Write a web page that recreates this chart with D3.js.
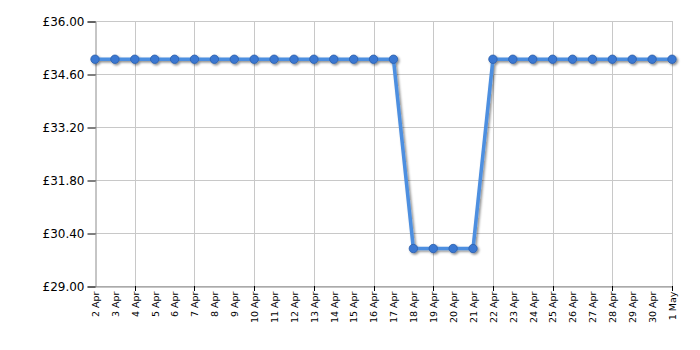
<!DOCTYPE html>
<html>
<head>
<meta charset="utf-8">
<script src="https://cdn.jsdelivr.net/npm/d3@7"></script>
<style>
  body { margin: 0; background: #fff; }
  svg { display: block; font-family: "DejaVu Sans", Verdana, sans-serif; }
</style>
</head>
<body>
<div id="chart"></div>
<script>
// price history, 2 Apr - 1 May
var dates = ["2 Apr", "3 Apr", "4 Apr", "5 Apr", "6 Apr", "7 Apr", "8 Apr", "9 Apr", "10 Apr",
  "11 Apr", "12 Apr", "13 Apr", "14 Apr", "15 Apr", "16 Apr", "17 Apr", "18 Apr", "19 Apr",
  "20 Apr", "21 Apr", "22 Apr", "23 Apr", "24 Apr", "25 Apr", "26 Apr", "27 Apr", "28 Apr",
  "29 Apr", "30 Apr", "1 May"];
var prices = [34.99, 34.99, 34.99, 34.99, 34.99, 34.99, 34.99, 34.99, 34.99,
  34.99, 34.99, 34.99, 34.99, 34.99, 34.99, 34.99, 29.99, 29.99,
  29.99, 29.99, 34.99, 34.99, 34.99, 34.99, 34.99, 34.99, 34.99,
  34.99, 34.99, 34.99];
var yTicks = [29.00, 30.40, 31.80, 33.20, 34.60, 36.00];
var gridDates = ["4 Apr", "7 Apr", "10 Apr", "13 Apr", "16 Apr", "19 Apr", "22 Apr",
  "25 Apr", "28 Apr", "1 May"];

var width = 700, height = 350;
var margin = {top: 21, right: 28, bottom: 64, left: 95};

var svg = d3.select("#chart").append("svg")
    .attr("width", width)
    .attr("height", height);

var x = d3.scalePoint()
    .domain(dates)
    .range([margin.left, width - margin.right]);

var y = d3.scaleLinear()
    .domain([29, 36])
    .range([height - margin.bottom, margin.top]);

// shadow filter for line and dots
var defs = svg.append("defs");
var f = defs.append("filter").attr("id", "shadow")
    .attr("x", "-20%").attr("y", "-20%").attr("width", "140%").attr("height", "140%");
f.append("feDropShadow")
    .attr("dx", 1.5).attr("dy", 1.5).attr("stdDeviation", 1)
    .attr("flood-color", "#000").attr("flood-opacity", 0.45);

// horizontal grid
svg.append("g")
    .selectAll("line")
    .data(yTicks)
    .join("line")
    .attr("x1", margin.left)
    .attr("x2", width - margin.right)
    .attr("y1", function (d) { return y(d) + 0.5; })
    .attr("y2", function (d) { return y(d) + 0.5; })
    .attr("stroke", "#c8c8c8");

// vertical grid
svg.append("g")
    .selectAll("line")
    .data(gridDates)
    .join("line")
    .attr("x1", function (d) { return Math.round(x(d)) + 0.5; })
    .attr("x2", function (d) { return Math.round(x(d)) + 0.5; })
    .attr("y1", margin.top)
    .attr("y2", height - margin.bottom)
    .attr("stroke", "#c8c8c8");

// y axis
var yAxis = svg.append("g")
    .attr("transform", "translate(" + (margin.left + 0.5) + ",0.5)")
    .call(d3.axisLeft(y)
        .tickValues(yTicks)
        .tickSize(8)
        .tickPadding(3)
        .tickFormat(function (d) { return "£" + d.toFixed(2); }));
yAxis.select(".domain").attr("stroke", "#8c8c8c");
yAxis.selectAll(".tick line").attr("stroke", "#000");
yAxis.selectAll("text")
    .attr("font-size", "12px")
    .attr("font-family", "DejaVu Sans, Verdana, sans-serif")
    .attr("fill", "#000");

// x axis
var xAxis = svg.append("g")
    .attr("transform", "translate(0," + (height - margin.bottom + 0.5) + ")")
    .call(d3.axisBottom(x).tickSize(0).tickPadding(0));
xAxis.select(".domain").attr("stroke", "#8c8c8c");
xAxis.selectAll("text")
    .attr("font-size", "9.5px")
    .attr("font-family", "DejaVu Sans, Verdana, sans-serif")
    .attr("fill", "#000")
    .attr("text-anchor", "end")
    .attr("dy", "0.35em")
    .attr("transform", "translate(0,5) rotate(-90)")
    .attr("x", 0)
    .attr("y", 0);

// tick marks under vertical grid lines
svg.append("g")
    .selectAll("line")
    .data(gridDates)
    .join("line")
    .attr("x1", function (d) { return Math.round(x(d)) + 0.5; })
    .attr("x2", function (d) { return Math.round(x(d)) + 0.5; })
    .attr("y1", height - margin.bottom)
    .attr("y2", height - margin.bottom + 5)
    .attr("stroke", "#000");

// series
var pts = dates.map(function (d, i) { return [x(d), y(prices[i])]; });

var g = svg.append("g").attr("filter", "url(#shadow)");
g.append("path")
    .datum(pts)
    .attr("d", d3.line())
    .attr("fill", "none")
    .attr("stroke", "#4d8fe0")
    .attr("stroke-width", 3.5)
    .attr("stroke-linejoin", "round");

g.selectAll("circle")
    .data(pts)
    .join("circle")
    .attr("cx", function (d) { return d[0]; })
    .attr("cy", function (d) { return d[1]; })
    .attr("r", 4.2)
    .attr("fill", "#3b78d2")
    .attr("stroke", "#2c5ea8")
    .attr("stroke-width", 0.8);
</script>
</body>
</html>
